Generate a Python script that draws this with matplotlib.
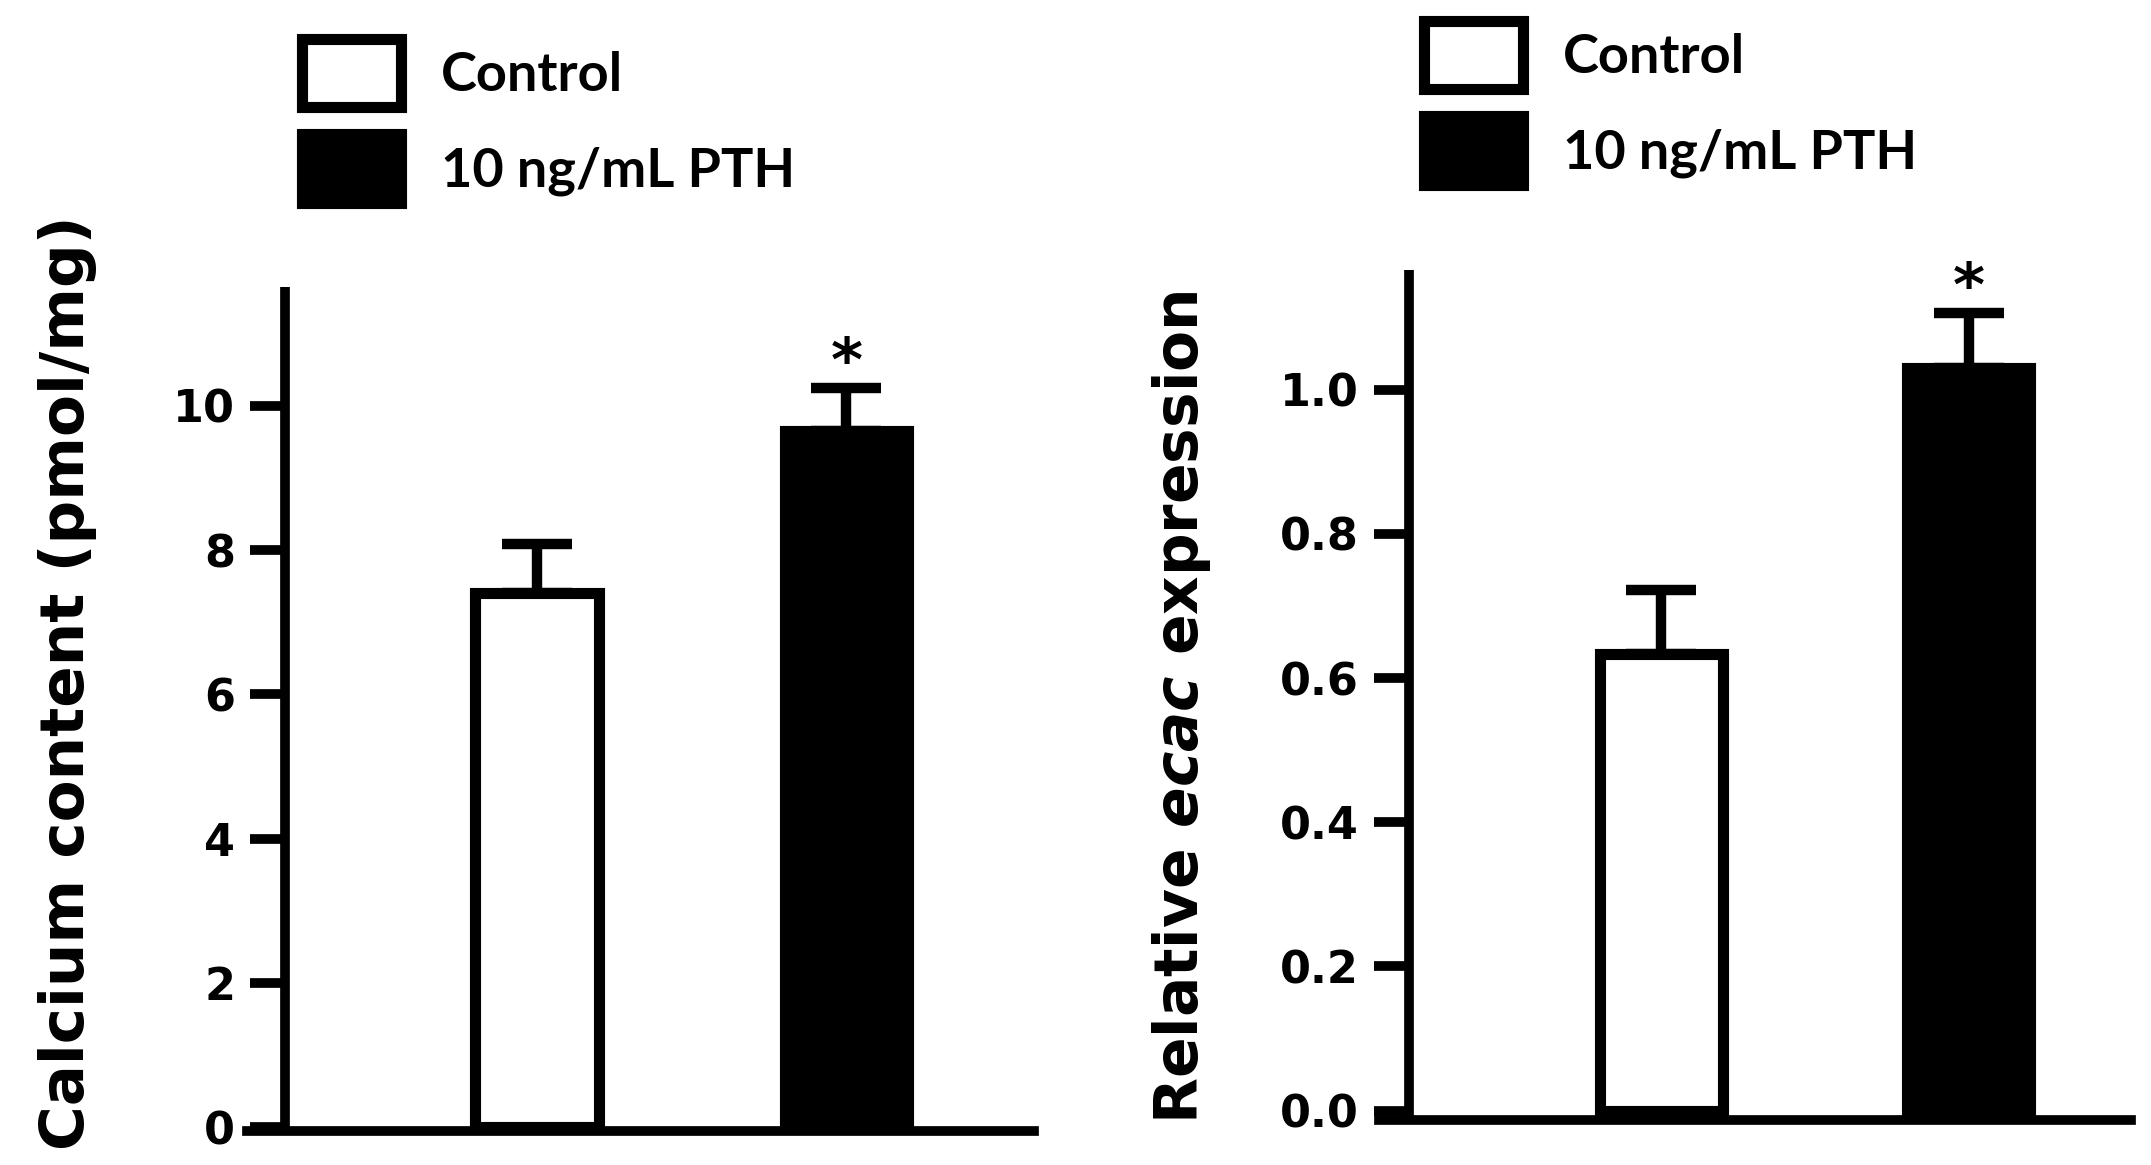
import numpy as np
import matplotlib
matplotlib.use('Agg')
import matplotlib.pyplot as plt
from matplotlib.patches import Patch

##data

groups=['Control','10 ng/mL PTH']
calcium=[7.41,9.65]
calcium_err=[0.68,0.60]
ecac=[0.634,1.030]
ecac_err=[0.088,0.076]
calcium_ticks=[0,2,4,6,8,10]
ecac_ticks=[0.0,0.2,0.4,0.6,0.8,1.0]
bar_colors=['white','black']

##style

plt.rcParams['font.family']='DejaVu Sans'
plt.rcParams['font.weight']='bold'
plt.rcParams['mathtext.fontset']='custom'
plt.rcParams['mathtext.it']='DejaVu Sans:italic:bold'
plt.rcParams['mathtext.rm']='DejaVu Sans:bold'

W,H=2151,1165
fig=plt.figure(figsize=(W/100,H/100),dpi=100)

def px_axes(left,right,top,bottom):
    return fig.add_axes([left/W,1-bottom/H,(right-left)/W,(bottom-top)/H])

def panel(ax,vals,errs,ticks,ylim,xlim,spine_x,ylabel,label_xy,label_size,tickfmt):
    x=np.arange(len(vals))
    ax.bar(x,vals,width=0.40,color=bar_colors,edgecolor='black',linewidth=8,zorder=3)
    ax.errorbar(x,vals,yerr=[np.zeros(len(errs)),errs],fmt='none',ecolor='black',
                elinewidth=7.5,capsize=25,capthick=7.5,zorder=2)
    for xi,v,e in zip(x[1:],np.array(vals)[1:],np.array(errs)[1:]):
        ax.annotate('*',xy=(xi,v+e),xytext=(0,-4),textcoords='offset points',
                    ha='center',va='bottom',fontsize=44,fontweight='bold')
    ax.set_xlim(*xlim)
    ax.set_ylim(*ylim)
    ax.set_yticks(ticks)
    ax.set_yticklabels([tickfmt.format(t) for t in ticks])
    ax.set_xticks([])
    for s in ['top','right']:
        ax.spines[s].set_visible(False)
    ax.spines['left'].set_position(('data',spine_x))
    ax.spines['left'].set_linewidth(7)
    ax.spines['bottom'].set_linewidth(7)
    ax.spines['left'].set_capstyle('butt')
    ax.tick_params(axis='y',direction='out',length=25,width=7,pad=11,labelsize=32)
    ax.set_ylabel(ylabel,fontsize=label_size,fontweight='bold')
    ax.yaxis.set_label_coords(*label_xy)
    ax.patch.set_alpha(0)

ax1=px_axes(247,1034,287,1131)
panel(ax1,calcium,calcium_err,calcium_ticks,(-0.055,11.65),(-0.937,1.606),-0.814,
      'Calcium content (pmol/mg)',(-0.19,0.531),44,'{:g}')

ax2=px_axes(1379,2131,270,1120)
panel(ax2,ecac,ecac_err,ecac_ticks,(-0.013,1.166),(-0.917,1.528),-0.820,
      r'Relative $\mathit{ecac}$ expression',(-0.221,0.485),43,'{:.1f}')

def legend(ax,x,y):
    handles=[Patch(facecolor=c,edgecolor='black',linewidth=8,joinstyle='round') for c in bar_colors]
    ax.legend(handles,groups,loc='upper left',bbox_to_anchor=(x/W,1-y/H),
              bbox_transform=fig.transFigure,frameon=False,borderpad=0,borderaxespad=0,
              handlelength=1.83,handleheight=1.58,handletextpad=0.75,labelspacing=0.5,
              prop={'family':'Lato','weight':'bold','size':39})

legend(ax1,301.5,38.5)
legend(ax2,1423.5,20.5)

fig.savefig('out.png',dpi=100)
